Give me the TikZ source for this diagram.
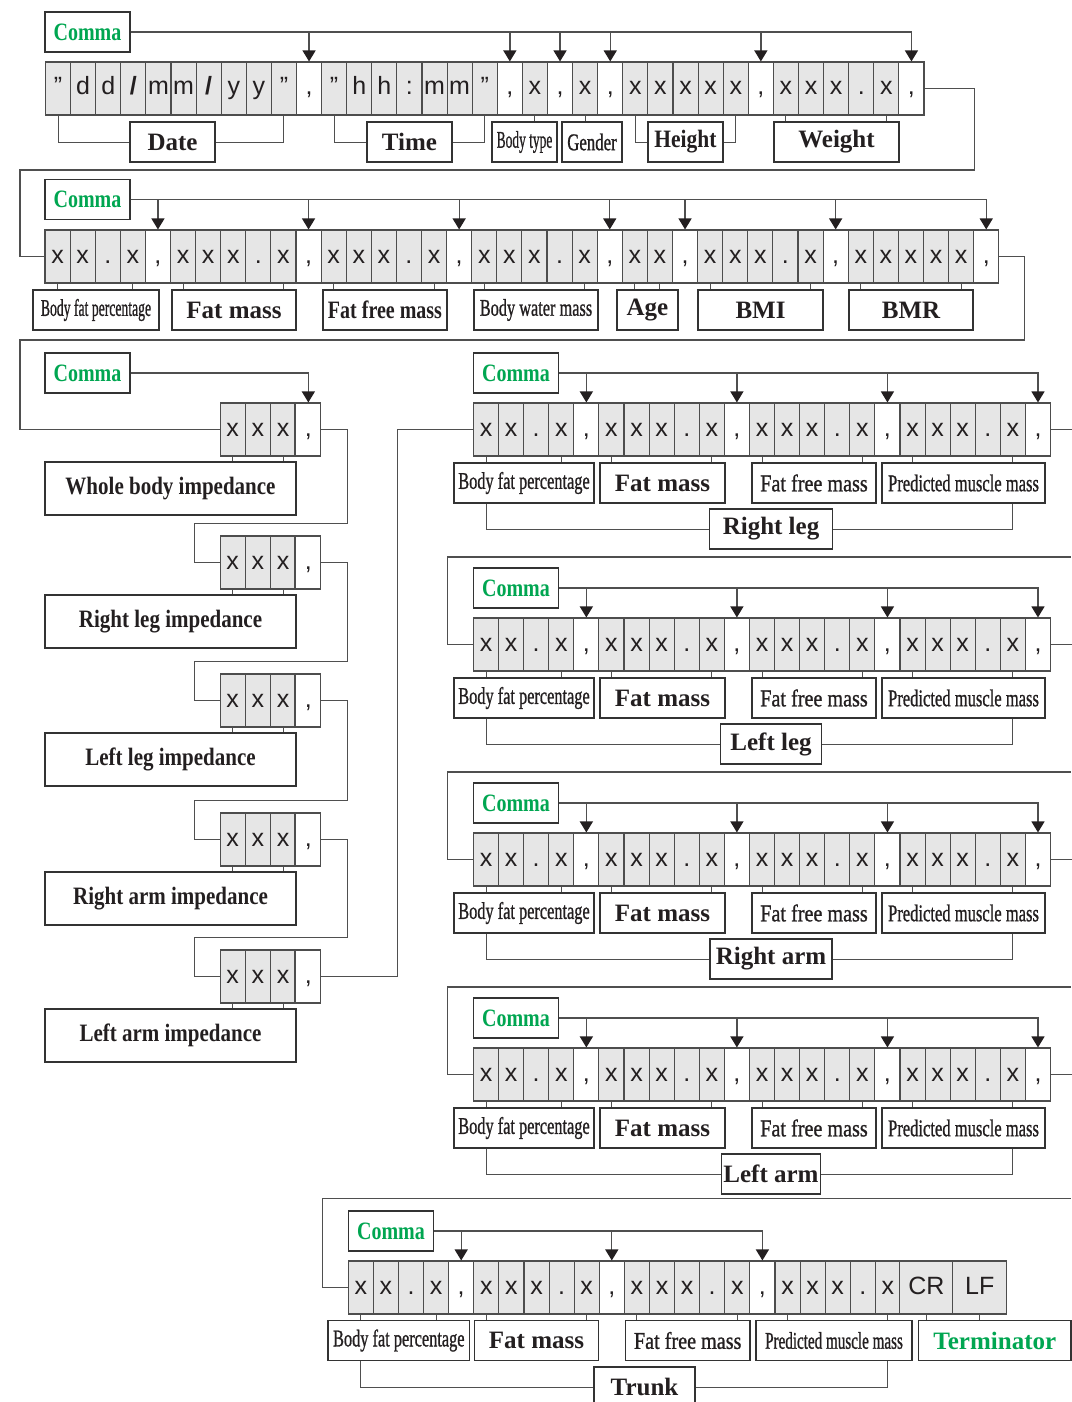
\documentclass[tikz,border=0pt]{standalone}
\usepackage{fontspec}
\setmainfont{Liberation Serif}
\setsansfont{Liberation Sans}
\newfontfamily\semiserif{Liberation Serif}[FakeBold=1.1]
\usetikzlibrary{arrows.meta}

\definecolor{cellgray}{HTML}{E6E6E6}
\definecolor{cellline}{HTML}{4D4D4D}
\definecolor{boxline}{HTML}{333333}
\definecolor{connline}{HTML}{4F4F4F}
\definecolor{commagreen}{HTML}{00A651}
\definecolor{inkc}{HTML}{231F20}

\newcommand\condtxt[2]{\scalebox{#1}[1]{#2}}

\begin{document}
\begin{tikzpicture}[x=1pt,y=-1pt,
    cellbase/.style={draw=cellline, line width=1.1pt, minimum width=25.1pt, minimum height=53pt, inner sep=0pt,
                     text=inkc, text height=13pt, text depth=0pt, font={\fontsize{25}{28}\selectfont\sffamily}},
    gc/.style={cellbase, fill=cellgray},
    wc/.style={cellbase, fill=white},
    lab/.style={draw=boxline, line width=1.2pt, fill=white, minimum height=40pt, inner sep=0pt,
                text=inkc, font={\fontsize{24}{28}\selectfont\semiserif}},
    boldlab/.style={lab, font={\fontsize{25}{28}\selectfont\rmfamily\bfseries}},
    commabox/.style={boldlab, minimum width=85pt, text=commagreen},
    conn/.style={draw=connline, line width=1.3pt},
    tick/.style={draw=connline, line width=1pt},
    feed/.style={conn, -{Triangle[width=13pt,length=11pt,color=inkc]}}]
\useasboundingbox (0,0) rectangle (1071,1402);

% row 1
\node[commabox] (cm1) at (87.5,32) {\condtxt{0.8}{Comma}};
\foreach \ch/\kd [count=\i from 0] in {”/gc,d/gc,d/gc,{\textbf{/}}/gc,m/gc,m/gc,{\textbf{/}}/gc,y/gc,y/gc,”/gc,{,}/wc,%
”/gc,h/gc,h/gc,:/gc,m/gc,m/gc,”/gc,{,}/wc,x/gc,{,}/wc,x/gc,{,}/wc,%
x/gc,x/gc,x/gc,x/gc,x/gc,{,}/wc,x/gc,x/gc,x/gc,./gc,x/gc,{,}/wc}
  \node[\kd] (a\i) at (58.05+25.1*\i,88.5) {\ch};
\foreach \c in {10,18,20,22,28,34}
  \draw[feed] (cm1.east) -| (a\c.north);
\node[boldlab, minimum width=85pt] (date) at (172.5,142) {Date};
\node[boldlab, minimum width=85pt] (time) at (409.5,142) {Time};
\node[lab, minimum width=65pt] (btype) at (524.5,142) {\condtxt{0.56}{Body type}};
\node[lab, minimum width=60pt] (gender) at (592,142) {\condtxt{0.7}{Gender}};
\node[boldlab, minimum width=75pt] (height) at (685.5,142) {\condtxt{0.86}{Height}};
\node[boldlab, minimum width=125pt] (weight) at (836.5,142) {Weight};
\draw[tick] (a0.south) |- (date.west);
\draw[tick] (a9.south) |- (date.east);
\draw[tick] (a11.south) |- (time.west);
\draw[tick] (a17.south) |- (time.east);
\draw[tick] (a19.south) -- (a19.south |- btype.north);
\draw[tick] (a21.south) -- (a21.south |- gender.north);
\draw[tick] (a23.south) |- (height.west);
\draw[tick] (a27.south) |- (height.east);
\draw[tick] (a29.south) -- (a29.south |- weight.north);
\draw[tick] (a33.south) -- (a33.south |- weight.north);

% row 2
\node[commabox] (cm2) at (87.5,199.5) {\condtxt{0.8}{Comma}};
\foreach \ch/\kd [count=\i from 0] in {x/gc,x/gc,./gc,x/gc,{,}/wc,%
x/gc,x/gc,x/gc,./gc,x/gc,{,}/wc,x/gc,x/gc,x/gc,./gc,x/gc,{,}/wc,%
x/gc,x/gc,x/gc,./gc,x/gc,{,}/wc,x/gc,x/gc,{,}/wc,%
x/gc,x/gc,x/gc,./gc,x/gc,{,}/wc,x/gc,x/gc,x/gc,x/gc,x/gc,{,}/wc}
  \node[\kd] (b\i) at (57.55+25.1*\i,256.5) {\ch};
\foreach \c in {4,10,16,22,25,31,37}
  \draw[feed] (cm2.east) -| (b\c.north);
\node[lab, minimum width=126pt] (bf2) at (96,310) {\condtxt{0.57}{Body fat percentage}};
\node[boldlab, minimum width=124pt] (fm2) at (234,310) {Fat mass};
\node[boldlab, minimum width=124pt] (ff2) at (385,310) {\condtxt{0.8}{Fat free mass}};
\node[lab, minimum width=124pt] (bw2) at (536,310) {\condtxt{0.68}{Body water mass}};
\node[boldlab, minimum width=61pt] (age) at (647.5,310) {Age};
\node[boldlab, minimum width=125pt] (bmi) at (760.5,310) {BMI};
\node[boldlab, minimum width=124pt] (bmr) at (911,310) {BMR};
\foreach \c/\n in {0/bf2,3/bf2,5/fm2,9/fm2,11/ff2,15/ff2,17/bw2,21/bw2,23/age,24/age,26/bmi,30/bmi,32/bmr,36/bmr}
  \draw[tick] (b\c.south) -- (b\c.south |- \n.north);
\draw[conn] (a34.east) -- ++(50,0) |- (20,170) |- (b0.west);

% impedances
\node[commabox] (cm3) at (87.5,373) {\condtxt{0.8}{Comma}};
\foreach \g/\T/\lab in {p1/403/Whole body impedance,p2/536/Right leg impedance,p3/674/Left leg impedance,%
p4/813/Right arm impedance,p5/950/Left arm impedance} {
  \foreach \ch/\kd [count=\i from 0] in {x/gc,x/gc,x/gc,{,}/wc}
    \node[\kd] (\g c\i) at (232.6+25.25*\i,\T+26.5) {\ch};
  \draw[cellline, line width=1.8pt] (\g c3.north west) -- (\g c3.south west);
  \node[boldlab, minimum width=251pt, minimum height=53pt] (\g l) at (170.5,\T+85.5) {\condtxt{0.84}{\lab}};
  \draw[tick] (\g c0.south) -- (\g c0.south |- \g l.north);
  \draw[tick] (\g c2.south) -- (\g c2.south |- \g l.north);
}
\draw[feed] (cm3.east) -| (p1c3.north);
\foreach \a/\b in {p1/p2,p2/p3,p3/p4,p4/p5}
  \draw[conn] (\a c3.east) -- ++(26,0) |- ([xshift=-25pt,yshift=12pt]\b c0.north west) |- (\b c0.west);
\draw[conn] (b37.east) -- ++(25,0) |- (20,340) |- (p1c0.west);

% segments
\foreach \g/\T/\lab/\w in {rleg/403/Right leg/123,lleg/618/Left leg/101,rarm/833/Right arm/122,larm/1048/Left arm/99} {
  \node[commabox] (\g cm) at (516,\T-30) {\condtxt{0.8}{Comma}};
  \foreach \ch/\kd [count=\i from 0] in {x/gc,x/gc,./gc,x/gc,{,}/wc,x/gc,x/gc,x/gc,./gc,x/gc,{,}/wc,%
  x/gc,x/gc,x/gc,./gc,x/gc,{,}/wc,x/gc,x/gc,x/gc,./gc,x/gc,{,}/wc}
    \node[\kd] (\g c\i) at (486+25.09*\i,\T+26.5) {\ch};
  \foreach \c in {4,10,16,22}
    \draw[feed] (\g cm.east) -| (\g c\c.north);
  \node[lab, minimum width=140pt] (\g bf) at (524,\T+80) {\condtxt{0.68}{Body fat percentage}};
  \node[boldlab, minimum width=125pt] (\g fm) at (662.5,\T+80) {Fat mass};
  \node[lab, minimum width=124pt] (\g ff) at (814,\T+80) {\condtxt{0.84}{Fat free mass}};
  \node[lab, minimum width=163pt] (\g pm) at (963.5,\T+80) {\condtxt{0.69}{Predicted muscle mass}};
  \foreach \c/\n in {0/bf,3/bf,5/fm,9/fm,11/ff,15/ff,17/pm,21/pm}
    \draw[tick] (\g c\c.south) -- (\g c\c.south |- \g\n.north);
  \node[boldlab, minimum width=\w pt] (\g l) at (771,\T+126) {\lab};
  \draw[tick] (\g c0.south |- \g bf.south) |- (\g l.west);
  \draw[tick] (\g c21.south |- \g pm.south) |- (\g l.east);
  \draw[conn] (\g c22.east) -- ++(21,0);
}
\draw[conn] (p5c3.east) -- ++(76,0) |- (rlegc0.west);
\foreach \g in {lleg,rarm,larm}
  \draw[conn] (\g c0.west) -- ++(-25.4,0) |- ++(623,-87.5);

% trunk
\node[commabox] (trcm) at (391,1231) {\condtxt{0.8}{Comma}};
\foreach \ch/\kd [count=\i from 0] in {x/gc,x/gc,./gc,x/gc,{,}/wc,x/gc,x/gc,x/gc,./gc,x/gc,{,}/wc,%
x/gc,x/gc,x/gc,./gc,x/gc,{,}/wc,x/gc,x/gc,x/gc,./gc,x/gc}
  \node[\kd] (tr\i) at (360.8+25.1*\i,1287.5) {\ch};
\node[gc, minimum width=53pt] (cr) at (926.4,1287.5) {CR};
\node[gc, minimum width=53.6pt] (lf) at (979.7,1287.5) {LF};
\foreach \c in {4,10,16}
  \draw[feed] (trcm.east) -| (tr\c.north);
\node[lab, minimum width=141.6pt] (trbf) at (398.8,1340.5) {\condtxt{0.68}{Body fat percentage}};
\node[boldlab, minimum width=124pt] (trfm) at (536.5,1340.5) {Fat mass};
\node[lab, minimum width=124.4pt] (trff) at (687.7,1340.5) {\condtxt{0.84}{Fat free mass}};
\node[lab, minimum width=156pt] (trpm) at (834,1340.5) {\condtxt{0.63}{Predicted muscle mass}};
\node[boldlab, minimum width=152.5pt, text=commagreen] (term) at (994.8,1340.5) {Terminator};
\foreach \c/\n in {0/trbf,3/trbf,5/trfm,9/trfm,11/trff,15/trff,17/trpm,21/trpm}
  \draw[tick] (tr\c.south) -- (tr\c.south |- \n.north);
\draw[tick] (cr.south) -- (cr.south |- term.north);
\draw[tick] (lf.south) -- (lf.south |- term.north);
\node[boldlab, minimum width=101pt] (trunk) at (644.5,1387) {Trunk};
\draw[tick] (tr0.south |- trbf.south) |- (trunk.west);
\draw[tick] (tr21.south |- trpm.south) |- (trunk.east);
\draw[conn] (tr0.west) -- ++(-25,0) |- ++(748,-89);
\end{tikzpicture}
\end{document}
